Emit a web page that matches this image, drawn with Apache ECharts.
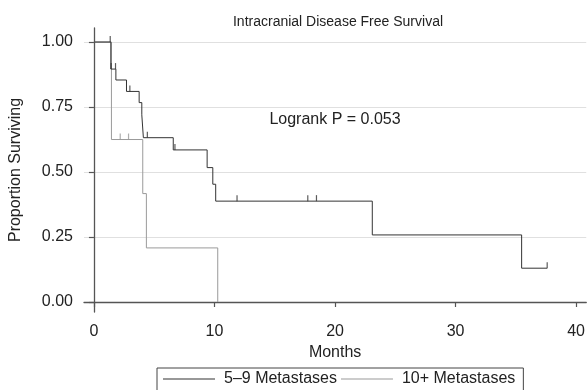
<!DOCTYPE html>
<html>
<head>
<meta charset="utf-8">
<script src="https://cdn.jsdelivr.net/npm/echarts@6/dist/echarts.min.js"></script>
<style>html,body{margin:0;padding:0;background:#fff}#c{width:588px;height:390px}</style>
</head>
<body>
<div id="c"></div>
<script>
// Kaplan-Meier step data (months, proportion surviving)
var darkName = '5\u20139 Metastases';
var lightName = '10+ Metastases';
var darkTimes = [0, 1.40, 1.82, 2.70, 3.75, 3.97, 4.10, 6.58, 9.39, 9.86, 10.10, 23.09, 35.48, 37.60];
var darkSurv  = [1.00, 0.896, 0.854, 0.810, 0.767, 0.720, 0.632, 0.585, 0.517, 0.453, 0.388, 0.258, 0.130, 0.130];
var lightTimes = [0, 1.45, 4.05, 4.35, 10.27];
var lightSurv  = [1.00, 0.625, 0.417, 0.208, 0.00];
// censoring marks
var darkCensorTimes = [1.35, 1.43, 1.79, 2.98, 4.43, 6.72, 11.87, 17.74, 18.46, 37.60];
var darkCensorSurv  = [1.00, 0.896, 0.896, 0.810, 0.632, 0.585, 0.388, 0.388, 0.388, 0.130];
var lightCensorTimes = [2.18, 2.87];
var lightCensorSurv  = [0.625, 0.625];
// axis ticks
var xTicks = [0, 10, 20, 30, 40];
var yTicks = [0, 0.25, 0.5, 0.75, 1.0];
var titleText = 'Intracranial Disease Free Survival';
var annotation = 'Logrank P = 0.053';

function zip(a, b) { return a.map(function (v, i) { return [v, b[i]]; }); }

var FONT = '"Liberation Sans", Arial, Helvetica, sans-serif';
var DARK = '#333333', LIGHT = '#9a9a9a', AXIS = '#555555';

var chart = echarts.init(document.getElementById('c'), null, {renderer: 'canvas'});
chart.setOption({
  animation: false,
  backgroundColor: '#ffffff',
  textStyle: {fontFamily: FONT},
  title: {
    text: titleText, left: 333, top: 10, textAlign: 'center',
    textStyle: {fontFamily: FONT, fontSize: 14, fontWeight: 'normal', color: '#222'}
  },
  grid: {left: 83, right: 0, top: 28, bottom: 78, containLabel: false},
  xAxis: {
    type: 'value', min: -0.825, max: 40.84,
    name: 'Months', nameLocation: 'middle', nameGap: 32,
    nameTextStyle: {fontFamily: FONT, fontSize: 16, color: '#222'},
    axisLine: {show: true, lineStyle: {color: AXIS, width: 1.3}},
    axisTick: {show: true, length: 5, lineStyle: {color: AXIS, width: 1.2}, customValues: xTicks},
    axisLabel: {customValues: xTicks, margin: 12, fontFamily: FONT, fontSize: 16, color: '#222',
      formatter: function (v) { return String(v); }},
    splitLine: {show: false}
  },
  yAxis: {
    type: 'value', min: -0.0385, max: 1.054,
    name: 'Proportion Surviving', nameLocation: 'middle', nameGap: 60,
    nameTextStyle: {fontFamily: FONT, fontSize: 16, color: '#222'},
    axisLine: {show: true, lineStyle: {color: AXIS, width: 1.3}},
    axisTick: {show: true, length: 5, lineStyle: {color: AXIS, width: 1.2}, customValues: yTicks},
    axisLabel: {customValues: yTicks, margin: 11, fontFamily: FONT, fontSize: 16, color: '#222',
      formatter: function (v) { return v.toFixed(2); }},
    splitLine: {show: true, lineStyle: {color: '#e0e0e0', width: 1}}
  },
  legend: {
    data: [darkName, lightName],
    left: 157, top: 368, orient: 'horizontal',
    icon: 'rect', itemWidth: 52, itemHeight: 1, itemGap: 4,
    padding: [3, 8, 10, 6],
    borderColor: '#444', borderWidth: 1,
    textStyle: {fontFamily: FONT, fontSize: 16, color: '#222', padding: [0, 0, 0, 4]}
  },
  graphic: [{
    type: 'text', x: 335, y: 120,
    style: {text: annotation, textAlign: 'center', textVerticalAlign: 'middle',
      font: '16px ' + FONT, fill: '#222'}
  }],
  series: [
    {name: lightName, type: 'line', step: 'end', data: zip(lightTimes, lightSurv),
      symbol: 'none', lineStyle: {color: LIGHT, width: 1}, itemStyle: {color: LIGHT}, z: 2},
    {name: darkName, type: 'line', step: 'end', data: zip(darkTimes, darkSurv),
      symbol: 'none', lineStyle: {color: DARK, width: 1}, itemStyle: {color: DARK}, z: 3},
    {name: 'darkCensor', type: 'scatter', data: zip(darkCensorTimes, darkCensorSurv),
      symbol: 'rect', symbolSize: [1.2, 6], symbolOffset: [0, -3], itemStyle: {color: DARK}, z: 4},
    {name: 'lightCensor', type: 'scatter', data: zip(lightCensorTimes, lightCensorSurv),
      symbol: 'rect', symbolSize: [1.2, 6], symbolOffset: [0, -3], itemStyle: {color: LIGHT}, z: 4}
  ]
});
</script>
</body>
</html>
